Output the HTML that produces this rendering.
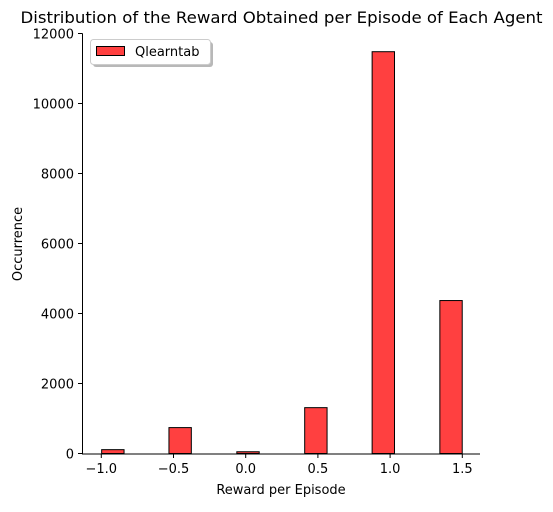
<!DOCTYPE html>
<html><head><meta charset="utf-8"><style>
body{margin:0;background:#fff;}
svg text{font-family:"DejaVu Sans","Liberation Sans",sans-serif;fill:#000;}
</style></head><body>
<svg id="chart" width="553" height="507" viewBox="0 0 553 507">
<text x="281.5" y="23" font-size="16.2" text-anchor="middle" textLength="522" lengthAdjust="spacingAndGlyphs">Distribution of the Reward Obtained per Episode of Each Agent</text>
<g id="bars"></g>
<g id="axes"></g>
<text x="281" y="494" font-size="13" text-anchor="middle">Reward per Episode</text>
<text transform="translate(22,244) rotate(-90)" font-size="13" text-anchor="middle">Occurrence</text>
<g>
<rect x="93" y="42" width="120" height="25" rx="3" fill="#888" opacity="0.6"/>
<rect x="90.5" y="39.5" width="120" height="25" rx="3" fill="#fff" stroke="#ccc"/>
<rect x="96.5" y="46.5" width="28" height="9" fill="#ff4040" stroke="#000"/>
<text x="135" y="56" font-size="13">Qlearntab</text>
</g>
</svg>
<script>
const binCenters=[-0.92,-0.454,0.016,0.486,0.953,1.422];
const counts=[110,740,50,1310,11480,4370];
const binWidth=0.155;
const xTicks=[-1.0,-0.5,0.0,0.5,1.0,1.5];
const xTickLabels=["\u22121.0","\u22120.5","0.0","0.5","1.0","1.5"];
const yTicks=[0,2000,4000,6000,8000,10000,12000];
const yTickLabels=["0","2000","4000","6000","8000","10000","12000"];
const NS="http://www.w3.org/2000/svg";
const xs=v=>101.3+(v+1)*144.4;
const ys=v=>453.5-v*0.035;
const bars=document.getElementById('bars'),axes=document.getElementById('axes');
function mk(tag,attrs,parent){const e=document.createElementNS(NS,tag);for(const k in attrs)e.setAttribute(k,attrs[k]);parent.appendChild(e);return e;}
binCenters.forEach((c,i)=>{
 const x0=xs(c-binWidth/2),x1=xs(c+binWidth/2);
 const r=mk('rect',{x:x0,y:ys(counts[i]),width:x1-x0,height:ys(0)-ys(counts[i]),fill:'#ff4040',stroke:'#000','stroke-width':1},bars);
 
 
});
const sp1=mk('line',{x1:82.5,y1:33.5,x2:82.5,y2:454,stroke:'#000','stroke-width':1},axes);


const sp2=mk('line',{x1:82,y1:454,x2:480,y2:454,stroke:'#000','stroke-width':1},axes);


xTicks.forEach((v,i)=>{
 mk('line',{x1:xs(v),y1:454,x2:xs(v),y2:458,stroke:'#000'},axes);
 const t=mk('text',{x:xs(v),y:473,'font-size':13,'text-anchor':'middle'},axes);
 t.textContent=xTickLabels[i];
 
 
});
yTicks.forEach((v,i)=>{
 mk('line',{x1:78,y1:ys(v),x2:82.5,y2:ys(v),stroke:'#000'},axes);
 const t=mk('text',{x:74,y:ys(v)+5,'font-size':13,'text-anchor':'end'},axes);
 t.textContent=yTickLabels[i];
 
 
});
</script>
</body></html>
